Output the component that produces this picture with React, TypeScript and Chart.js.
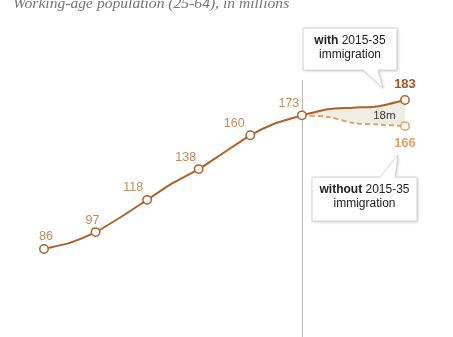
import React, { useEffect, useRef } from "react";
import { Chart, registerables } from "chart.js";

Chart.register(...registerables);

const histYears = [1965, 1970, 1975, 1980, 1985, 1990, 1995, 2000, 2005, 2010, 2015];
const histValues = [86, 90, 97, 107, 118, 129, 138, 149, 160, 168, 173];
const projYears = [2015, 2020, 2025, 2030, 2035];
const withImmigration = [173, 177, 178, 179, 183];
const withoutImmigration = [173, 172, 168, 167, 166];
const labeledYears = [1965, 1975, 1985, 1995, 2005, 2015];
const titleText = "Working-age population (25-64), in millions";
const gapLabel = "18m";

const DARK = "#b0602a";
const LIGHT = "#e6a064";
const LABEL = "#c68a5a";
const FONT = "'Liberation Sans', Arial, sans-serif";

const labelOffsets: Record<number, number> = { 1965: 2, 1975: -3, 1985: -14, 1995: -13, 2005: -16, 2015: -13 };

function drawCallout(ctx: any, box: any, tip: any, base: [number, number], baseY: number, bold: string, rest: string, line2: string) {
  ctx.save();
  ctx.beginPath();
  const { l, t, r, b } = box;
  if (baseY === b) {
    ctx.moveTo(l, t); ctx.lineTo(r, t); ctx.lineTo(r, b);
    ctx.lineTo(base[1], b); ctx.lineTo(tip.x, tip.y); ctx.lineTo(base[0], b);
    ctx.lineTo(l, b); ctx.closePath();
  } else {
    ctx.moveTo(l, t); ctx.lineTo(base[0], t); ctx.lineTo(tip.x, tip.y); ctx.lineTo(base[1], t);
    ctx.lineTo(r, t); ctx.lineTo(r, b); ctx.lineTo(l, b); ctx.closePath();
  }
  ctx.shadowColor = "rgba(0,0,0,0.22)";
  ctx.shadowBlur = 3;
  ctx.shadowOffsetX = 1;
  ctx.shadowOffsetY = 1;
  ctx.fillStyle = "#ffffff";
  ctx.fill();
  ctx.shadowColor = "transparent";
  ctx.strokeStyle = "#d4d4d4";
  ctx.lineWidth = 1;
  ctx.stroke();
  const cx = (l + r) / 2;
  ctx.fillStyle = "#222";
  ctx.textBaseline = "middle";
  ctx.textAlign = "left";
  ctx.font = `bold 12px ${FONT}`;
  const wb = ctx.measureText(bold).width;
  ctx.font = `12px ${FONT}`;
  const wr = ctx.measureText(rest).width;
  const sx = cx - (wb + wr) / 2;
  const y1 = t + 13;
  ctx.font = `bold 12px ${FONT}`;
  ctx.fillText(bold, sx, y1);
  ctx.font = `12px ${FONT}`;
  ctx.fillText(rest, sx + wb, y1);
  ctx.textAlign = "center";
  ctx.fillText(line2, cx, y1 + 14);
  ctx.restore();
}

const annotations = {
  id: "annotations",
  beforeDatasetsDraw(chart: any) {
    const { ctx, scales } = chart;
    const x = Math.round(scales.x.getPixelForValue(2015)) + 0.5;
    ctx.save();
    ctx.strokeStyle = "#bdbdbd";
    ctx.lineWidth = 1.2;
    ctx.beginPath();
    ctx.moveTo(x, 80);
    ctx.lineTo(x, chart.height);
    ctx.stroke();
    ctx.restore();
  },
  afterDraw(chart: any) {
    const { ctx, scales } = chart;
    const xs = scales.x, ys = scales.y;
    ctx.save();
    // title
    ctx.font = `italic 15.6px 'Liberation Serif', Georgia, serif`;
    ctx.fillStyle = "#757575";
    ctx.textAlign = "left";
    ctx.textBaseline = "alphabetic";
    ctx.fillText(titleText, 13, 8);

    // historical labels
    ctx.font = `12.5px ${FONT}`;
    ctx.fillStyle = LABEL;
    ctx.textAlign = "center";
    ctx.textBaseline = "middle";
    labeledYears.forEach((yr) => {
      const i = histYears.indexOf(yr);
      const px = xs.getPixelForValue(yr);
      const py = ys.getPixelForValue(histValues[i]);
      ctx.fillText(String(histValues[i]), px + (labelOffsets[yr] || 0), py - 12);
    });

    // end labels
    const last = projYears.length - 1;
    const ex = xs.getPixelForValue(projYears[last]);
    const wy = ys.getPixelForValue(withImmigration[last]);
    const woy = ys.getPixelForValue(withoutImmigration[last]);
    ctx.font = `bold 13px ${FONT}`;
    ctx.fillStyle = "#a5531f";
    ctx.fillText(String(withImmigration[last]), ex, wy - 16);
    ctx.fillStyle = LIGHT;
    ctx.fillText(String(withoutImmigration[last]), ex, woy + 17);

    // gap label
    ctx.font = `11.5px ${FONT}`;
    ctx.fillStyle = "#333";
    const gx = xs.getPixelForValue(2031);
    ctx.fillText(gapLabel, gx, (wy + woy) / 2 + 3);
    ctx.restore();

    drawCallout(ctx, { l: ex - 102, t: wy - 72, r: ex - 8, b: wy - 30 }, { x: ex - 22, y: wy - 12 }, [ex - 42, ex - 27], wy - 30, "with", " 2015-35", "immigration");
    drawCallout(ctx, { l: ex - 93, t: woy + 51, r: ex + 12, b: woy + 95 }, { x: ex - 7, y: woy + 29 }, [ex - 25, ex - 10], woy + 51, "without", " 2015-35", "immigration");
  },
};

export default function App() {
  const ref = useRef<HTMLCanvasElement>(null);
  useEffect(() => {
    if (!ref.current) return;
    const hist = histYears.map((x, i) => ({ x, y: histValues[i] }));
    const withD = projYears.map((x, i) => ({ x, y: withImmigration[i] }));
    const withoutD = projYears.map((x, i) => ({ x, y: withoutImmigration[i] }));
    const chart = new Chart(ref.current, {
      type: "line",
      data: {
        datasets: [
          {
            data: hist,
            borderColor: DARK,
            borderWidth: 2,
            tension: 0.2,
            pointRadius: histYears.map((y) => (labeledYears.includes(y) ? 4.2 : 0)),
            pointBackgroundColor: "#fff",
            pointBorderColor: DARK,
            pointBorderWidth: 1.5,
            order: 0,
          },
          {
            data: withD,
            borderColor: DARK,
            borderWidth: 2,
            tension: 0.25,
            pointRadius: projYears.map((_, i) => (i === projYears.length - 1 ? 4.2 : 0)),
            pointBackgroundColor: "#fff",
            pointBorderColor: DARK,
            pointBorderWidth: 1.5,
            order: 1,
          },
          {
            data: withoutD,
            borderColor: LIGHT,
            borderWidth: 2,
            borderDash: [5, 3],
            tension: 0.3,
            fill: { target: 1 },
            backgroundColor: "#efeee4",
            pointRadius: projYears.map((_, i) => (i === projYears.length - 1 ? 4.2 : 0)),
            pointBackgroundColor: "#fff",
            pointBorderColor: LIGHT,
            pointBorderWidth: 1.5,
            order: 2,
          },
        ],
      },
      options: {
        responsive: false,
        animation: false,
        devicePixelRatio: 1,
        layout: { padding: 0, autoPadding: false },
        plugins: { legend: { display: false }, tooltip: { enabled: false }, title: { display: false } },
        scales: {
          x: { type: "linear", display: false, min: 1956.47, max: 2044.31 },
          y: { type: "linear", display: false, min: 28.7, max: 248.1 },
        },
      },
      plugins: [annotations],
    });
    return () => chart.destroy();
  }, []);
  return (
    <div style={{ position: "fixed", left: 0, top: 0, width: 453, height: 337, background: "#fff" }}>
      <canvas ref={ref} width={453} height={337} style={{ display: "block" }} />
    </div>
  );
}
